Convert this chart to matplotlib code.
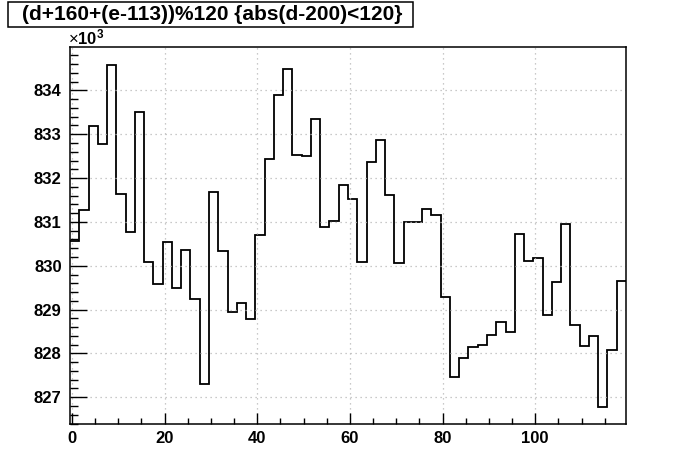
import matplotlib
matplotlib.use("Agg")
import matplotlib.pyplot as plt
import numpy as np
from matplotlib.patches import Rectangle
from matplotlib.ticker import MultipleLocator, FuncFormatter

plt.rcParams["font.family"] = ["Liberation Sans", "DejaVu Sans"]
plt.rcParams["mathtext.fontset"] = "custom"
plt.rcParams["mathtext.rm"] = "Liberation Sans"
plt.rcParams["mathtext.bf"] = "Liberation Sans:bold"

title = "(d+160+(e-113))%120 {abs(d-200)<120}"

# histogram binning: 60 bins of width 2 starting at -0.4
x_low = -0.4
bin_width = 2.0
# bin contents
counts = [
    830560, 831280, 833190, 832780, 834590, 831630, 830770, 833510, 830090, 829580,
    830540, 829490, 830360, 829240, 827300, 831680, 830330, 828940, 829150, 828780,
    830700, 832440, 833890, 834490, 832530, 832500, 833350, 830880, 831020, 831840,
    831520, 830090, 832370, 832870, 831620, 830070, 831000, 831000, 831290, 831160,
    829280, 827470, 827890, 828140, 828190, 828420, 828710, 828480, 830730, 830110,
    830170, 828870, 829620, 830960, 828650, 828170, 828400, 826770, 828080, 829660,
]
y_min, y_max = 826390, 834990

edges = x_low + bin_width * np.arange(len(counts) + 1)

fig = plt.figure(figsize=(6.96, 4.72), dpi=100)
ax = fig.add_axes([70 / 696, 1 - 424 / 472, 556 / 696, 377 / 472])

ax.stairs(counts, edges, baseline=None, color="black", lw=1.3)

ax.set_xlim(edges[0], edges[-1])
ax.set_ylim(y_min, y_max)

ax.xaxis.set_major_locator(MultipleLocator(20))
ax.xaxis.set_minor_locator(MultipleLocator(5))
ax.yaxis.set_major_locator(MultipleLocator(1000))
ax.yaxis.set_minor_locator(MultipleLocator(200))
ax.yaxis.set_major_formatter(FuncFormatter(lambda v, p: f"{v / 1000:.0f}"))

ax.tick_params(which="both", direction="in", top=False, right=False,
               labelsize=12, width=1, color="black")
ax.tick_params(axis="y", which="major", length=12, pad=6)
ax.tick_params(axis="y", which="minor", length=6)
ax.tick_params(axis="x", which="major", length=8, pad=5)
ax.tick_params(axis="x", which="minor", length=4)
for lab in ax.get_xticklabels() + ax.get_yticklabels():
    lab.set_fontweight("bold")

ax.grid(True, which="major", color="0.72", linestyle=(0, (1, 3)), lw=0.9)
for s in ax.spines.values():
    s.set_linewidth(1.1)

fig.text(68 / 696, 1 - 44 / 472, r"$\times\mathbf{10^{3}}$", fontsize=12,
         ha="left", va="baseline")

fig.patches.append(Rectangle((8 / 696, 1 - 27 / 472), 405 / 696, 25 / 472,
                             transform=fig.transFigure, facecolor="white",
                             edgecolor="black", lw=1.1))
fig.text(212 / 696, 1 - 15 / 472, title, fontsize=15, fontweight="bold",
         ha="center", va="center")

fig.savefig("out.png", dpi=100)
